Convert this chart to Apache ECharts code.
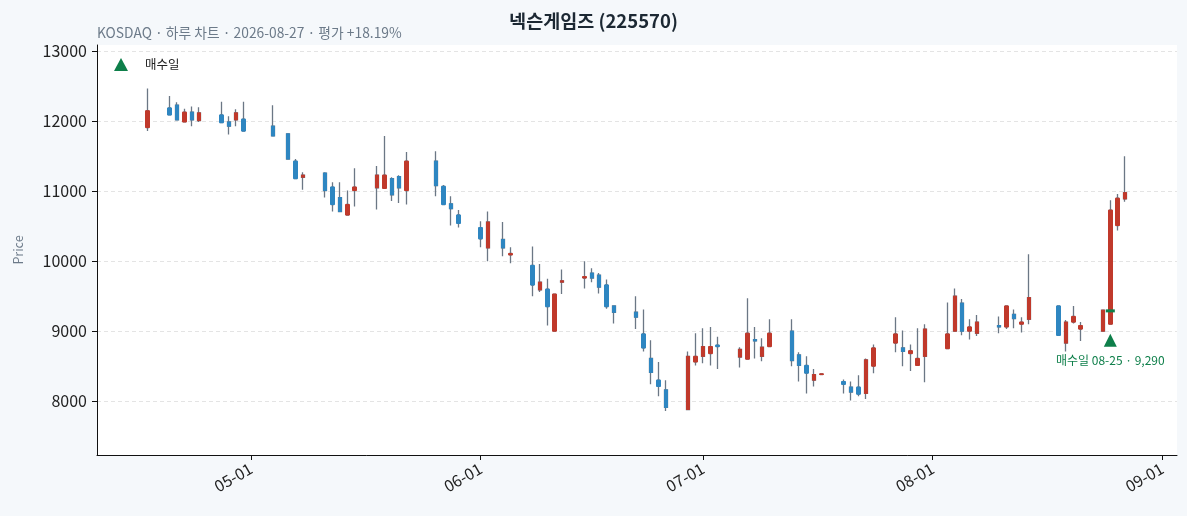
<!DOCTYPE html>
<html>
<head>
<meta charset="utf-8">
<script src="https://cdn.jsdelivr.net/npm/echarts@6.0.0/dist/echarts.min.js"></script>
<style>
html,body{margin:0;padding:0;background:#f5f8fb;}
#chart{width:1187px;height:516px;}
</style>
</head>
<body>
<div id="chart"></div>
<script>
const dates = [
 '2026-04-17','2026-04-20','2026-04-21','2026-04-22','2026-04-23','2026-04-24','2026-04-27','2026-04-28','2026-04-29','2026-04-30',
 '2026-05-04','2026-05-06','2026-05-07','2026-05-08','2026-05-11','2026-05-12','2026-05-13','2026-05-14','2026-05-15','2026-05-18','2026-05-19','2026-05-20','2026-05-21','2026-05-22','2026-05-26','2026-05-27','2026-05-28','2026-05-29',
 '2026-06-01','2026-06-02','2026-06-04','2026-06-05','2026-06-08','2026-06-09','2026-06-10','2026-06-11','2026-06-12','2026-06-15','2026-06-16','2026-06-17','2026-06-18','2026-06-19','2026-06-22','2026-06-23','2026-06-24','2026-06-25','2026-06-26','2026-06-29','2026-06-30',
 '2026-07-01','2026-07-02','2026-07-03','2026-07-06','2026-07-07','2026-07-08','2026-07-09','2026-07-10','2026-07-13','2026-07-14','2026-07-15','2026-07-16','2026-07-17','2026-07-20','2026-07-21','2026-07-22','2026-07-23','2026-07-24','2026-07-27','2026-07-28','2026-07-29','2026-07-30','2026-07-31',
 '2026-08-03','2026-08-04','2026-08-05','2026-08-06','2026-08-07','2026-08-10','2026-08-11','2026-08-12','2026-08-13','2026-08-14','2026-08-18','2026-08-19','2026-08-20','2026-08-21','2026-08-24','2026-08-25','2026-08-26','2026-08-27'
];
const opens = [
 11910,12190,12230,11990,12130,12010,12090,11990,12020,12030,
 11930,11820,11430,11200,11260,11060,10910,10660,11010,11050,11040,11180,11210,11010,11430,11070,10820,10660,
 10480,10190,10310,10090,9940,9590,9600,9000,9700,9760,9830,9800,9660,9360,9270,8960,8610,8300,8160,7880,8560,
 8640,8680,8800,8630,8600,8880,8640,8780,9000,8660,8510,8300,8380,8280,8200,8200,8110,8500,8830,8760,8680,8510,8640,
 8750,9000,9400,9000,8970,9080,9060,9240,9100,9170,9360,8830,9130,9030,9000,9100,10510,10890
];
const closes = [
 12150,12090,12020,12130,12020,12120,11980,11930,12120,11860,
 11790,11460,11180,11230,11010,10810,10710,10810,11060,11230,11230,10950,11050,11430,11080,10810,10750,10540,
 10320,10560,10190,10110,9660,9700,9350,9530,9720,9780,9760,9630,9350,9270,9200,8760,8410,8210,7910,8640,8640,
 8780,8780,8780,8740,8970,8860,8770,8970,8580,8510,8400,8380,8390,8240,8130,8100,8590,8760,8960,8710,8720,8610,9030,
 8960,9500,9000,9060,9130,9060,9360,9180,9130,9480,8940,9130,9210,9080,9300,10730,10900,10980
];
const lows = [
 11860,12090,12020,11990,11930,11990,11980,11810,11930,11860,
 11790,11460,11180,11020,10910,10710,10710,10660,10780,10740,11040,10860,10830,10810,10930,10810,10510,10480,
 10200,10000,10070,9970,9500,9560,9080,9000,9530,9610,9700,9540,9320,9110,9030,8710,8240,8070,7860,7880,8510,
 8540,8510,8460,8480,8600,8610,8570,8770,8500,8280,8110,8210,8380,8110,8010,8070,8030,8400,8700,8500,8430,8510,8270,
 8740,9000,8940,8880,8930,8970,9030,9040,8980,9100,8930,8710,9110,8860,9000,9090,10440,10850
];
const highs = [
 12470,12360,12270,12180,12210,12200,12280,12070,12170,12280,
 12230,11830,11460,11270,11270,11130,11130,11010,11330,11360,11790,11200,11230,11560,11570,11090,10930,10730,
 10570,10710,10560,10200,10210,9960,9750,9540,9880,10000,9900,9830,9740,9370,9500,9310,8870,8560,8300,8710,8970,
 9040,9060,8920,8770,9470,9060,8900,9170,9170,8700,8640,8460,8390,8310,8280,8370,8610,8810,9200,9010,8810,9040,9100,
 9410,9610,9460,9170,9230,9210,9370,9310,9200,10100,9370,9160,9360,9130,9310,10870,10960,11500
];
const yTicks = [8000, 9000, 10000, 11000, 12000, 13000];
const buyDate = '2026-08-25';
const buyPrice = 9290;
const buyMarkerPrice = 8870;
const titleText = '넥슨게임즈 (225570)';
const subtitleText = 'KOSDAQ · 하루 차트 · 2026-08-27 · 평가 +18.19%';

const ts = s => { const p = s.split('-').map(Number); return Date.UTC(p[0], p[1]-1, p[2]); };
const FONT = '"Noto Sans CJK KR", "Noto Sans", sans-serif';
const UP = '#c0392b', DOWN = '#2e86c1', WICK = '#6b7785', GREEN = '#0e7f4a';
const DAY = 86400000;

const fullData = dates.map((d,i) => [ts(d), opens[i], closes[i], lows[i], highs[i]]);
const bodyData = dates.map((d,i) => [ts(d), opens[i], closes[i], Math.min(opens[i],closes[i]), Math.max(opens[i],closes[i])]);
const bd = buyDate.split('-');
const buyLabel = '매수일 ' + bd[1] + '-' + bd[2] + ' · ' + buyPrice.toLocaleString('en-US');

const chart = echarts.init(document.getElementById('chart'));
chart.setOption({
  animation: false,
  useUTC: true,
  backgroundColor: '#f5f8fb',
  textStyle: { fontFamily: FONT },
  title: [
    { text: titleText, left: 'center', top: 7,
      textStyle: { fontFamily: FONT, fontSize: 18.5, fontWeight: 'bold', color: '#1c2833' } },
    { text: subtitleText, left: 92, top: 21,
      textStyle: { fontFamily: FONT, fontSize: 13.8, fontWeight: 'normal', color: '#6c7a89' } }
  ],
  legend: {
    data: ['매수일'], left: 109, top: 53, icon: 'triangle', itemWidth: 14, itemHeight: 13,
    textStyle: { fontFamily: FONT, fontSize: 12.5, color: '#222', padding: [0,0,0,12] }
  },
  grid: { left: 97, right: 10, top: 45, bottom: 61, show: true, backgroundColor: '#ffffff', borderWidth: 0 },
  xAxis: {
    type: 'time',
    min: Date.UTC(2026,3,10,5), max: Date.UTC(2026,8,3,0),
    splitNumber: 5, minInterval: 28 * DAY, maxInterval: 31 * DAY,
    axisLine: { show: true, lineStyle: { color: '#111', width: 1 } },
    axisTick: { show: true, length: 5, lineStyle: { color: '#111' } },
    axisLabel: { rotate: 30, fontSize: 16, color: '#222', margin: 12, fontFamily: FONT,
      formatter: v => { const d = new Date(v); return String(d.getUTCMonth()+1).padStart(2,'0') + '-' + String(d.getUTCDate()).padStart(2,'0'); } },
    splitLine: { show: false }
  },
  yAxis: {
    type: 'value', min: 7230, max: 13090,
    name: 'Price', nameLocation: 'middle', nameGap: 72, nameRotate: 90,
    nameTextStyle: { fontFamily: FONT, fontSize: 12.5, color: '#6c7a89' },
    axisLine: { show: true, lineStyle: { color: '#111', width: 1 } },
    axisTick: { show: true, length: 5, lineStyle: { color: '#111' }, customValues: yTicks },
    axisLabel: { fontSize: 16, color: '#222', margin: 10, fontFamily: FONT, customValues: yTicks,
      formatter: v => String(v) },
    splitLine: { show: true, lineStyle: { color: '#e4e4e4', type: [4,3], width: 1 } }
  },
  series: [
    { type: 'candlestick', name: 'wick', data: fullData, barWidth: 3, z: 2,
      itemStyle: { color: WICK, color0: WICK, borderColor: WICK, borderColor0: WICK, borderWidth: 1.3 },
      emphasis: { disabled: true }, silent: true },
    { type: 'candlestick', name: 'body', data: bodyData, barWidth: 4, z: 3,
      itemStyle: { color: UP, color0: DOWN, borderColor: UP, borderColor0: DOWN, borderWidth: 1 },
      emphasis: { disabled: true }, silent: true },
    { type: 'scatter', name: 'buyline', data: [[ts(buyDate), buyPrice]], symbol: 'rect', symbolSize: [9,3], z: 5,
      itemStyle: { color: GREEN, opacity: 1 }, silent: true },
    { type: 'scatter', name: '매수일', data: [[ts(buyDate), buyMarkerPrice]], symbol: 'triangle', symbolSize: 13, z: 5,
      itemStyle: { color: GREEN, opacity: 1 },
      label: { show: true, position: 'bottom', distance: 8, formatter: buyLabel, color: GREEN, fontSize: 12, fontFamily: FONT } }
  ]
});
</script>
</body>
</html>
